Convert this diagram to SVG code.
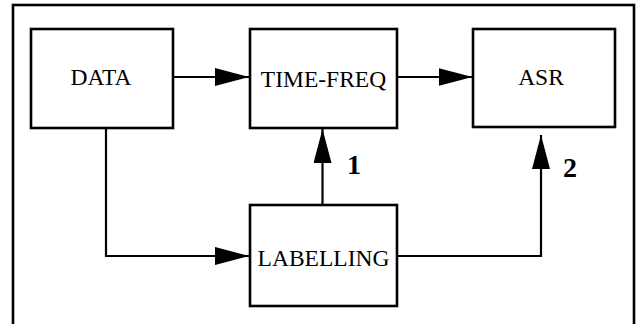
<svg xmlns="http://www.w3.org/2000/svg" width="642" height="324" viewBox="0 0 642 324">
  <style>
    .box { fill: #fff; stroke: #000; stroke-width: 2.6; }
    .lbl { font-family: "Liberation Serif", "Times New Roman", serif; font-size: 23.5px; fill: #000; text-anchor: middle; }
    .num { font-family: "Liberation Serif", "Times New Roman", serif; font-size: 28px; font-weight: bold; fill: #000; text-anchor: middle; }
    .wire { fill: none; stroke: #000; stroke-width: 2.2; }
  </style>
  <defs>
    <marker id="ah" markerWidth="34" markerHeight="18" refX="34" refY="9" orient="auto" markerUnits="userSpaceOnUse">
      <path d="M0,0 L34,9 L0,18 Z" fill="#000"/>
    </marker>
  </defs>
  <rect width="642" height="324" fill="#fff"/>
  <rect id="frame" x="13" y="5" width="621" height="330" fill="none" stroke="#000" stroke-width="2.6"/>

  <g id="connectors">
    <line class="wire" x1="173" y1="77" x2="249" y2="77" marker-end="url(#ah)"/>
    <line class="wire" x1="397" y1="77" x2="472.5" y2="77" marker-end="url(#ah)"/>
    <polyline class="wire" points="106,128 106,256 249,256" marker-end="url(#ah)"/>
    <line class="wire" x1="322.5" y1="205" x2="322.5" y2="129" marker-end="url(#ah)"/>
    <polyline class="wire" points="397,256 541,256 541,135" marker-end="url(#ah)"/>
    <text class="num" x="354" y="174">1</text>
    <text class="num" x="570" y="177">2</text>
  </g>

  <g id="data">
    <rect class="box" x="31" y="29" width="142" height="99"/>
    <text class="lbl" x="101" y="84.5">DATA</text>
  </g>
  <g id="timefreq">
    <rect class="box" x="250" y="29" width="147" height="99"/>
    <text class="lbl" x="323.5" y="86.5">TIME-FREQ</text>
  </g>
  <g id="asr">
    <rect class="box" x="473" y="29" width="142" height="98"/>
    <text class="lbl" x="541" y="85">ASR</text>
  </g>
  <g id="labelling">
    <rect class="box" x="250" y="205" width="147" height="101"/>
    <text class="lbl" x="323.5" y="265.5">LABELLING</text>
  </g>
</svg>
